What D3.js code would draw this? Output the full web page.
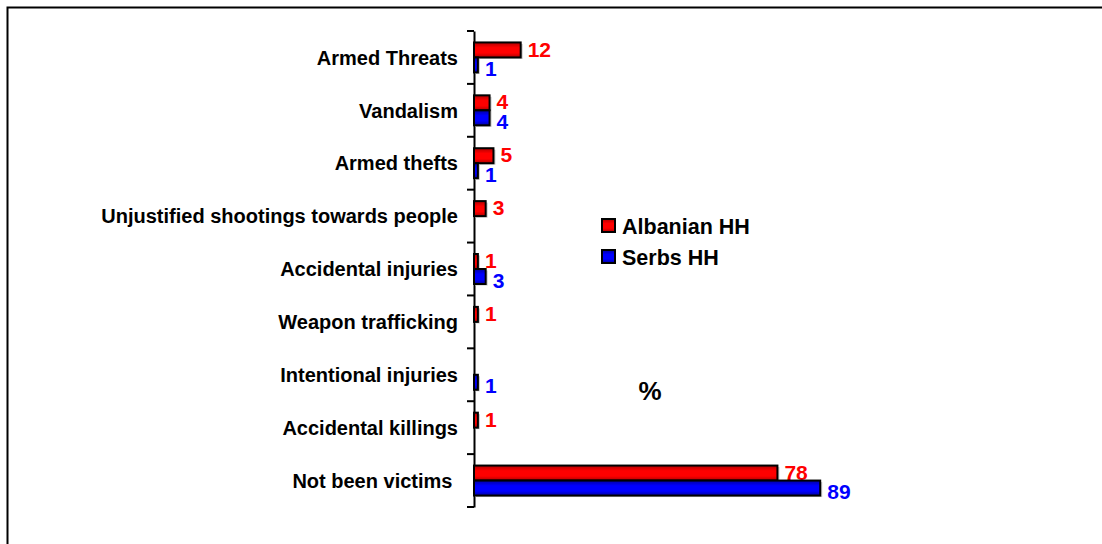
<!DOCTYPE html>
<html><head><meta charset="utf-8">
<script src="https://cdn.jsdelivr.net/npm/d3@7"></script>
<style>body{margin:0;background:#fff}svg{display:block}text{font-family:"Liberation Sans",Arial,sans-serif;font-weight:bold}</style>
</head><body><svg id="c" width="1102" height="544"></svg>
<script>
const categories = ["Armed Threats","Vandalism","Armed thefts","Unjustified shootings towards people","Accidental injuries","Weapon trafficking","Intentional injuries","Accidental killings","Not been victims "];
const albanian = [12,4,5,3,1,1,null,1,78];
const serbs = [1,4,1,null,3,null,1,null,89];
const seriesNames = ["Albanian HH","Serbs HH"];
const seriesColors = ["#ff0000","#0000ff"];

const svg = d3.select("#c");
const defs = svg.append("defs");
[["gr","#b00000","#ff0000"],["gb","#0000a0","#0000ff"]].forEach(([id,dark,bright])=>{
  const g = defs.append("linearGradient").attr("id",id).attr("x1",0).attr("y1",0).attr("x2",0).attr("y2",1);
  g.append("stop").attr("offset","0%").attr("stop-color",dark);
  g.append("stop").attr("offset","35%").attr("stop-color",bright);
  g.append("stop").attr("offset","70%").attr("stop-color",bright);
  g.append("stop").attr("offset","100%").attr("stop-color",dark);
});
const fills = ["url(#gr)","url(#gb)"];

// frame
svg.append("rect").attr("x",7.5).attr("y",7.5).attr("width",1200).attr("height",600)
  .attr("fill","none").attr("stroke","#000").attr("stroke-width",2);

const x = d3.scaleLinear().domain([0,100]).range([474,863]);
const y = d3.scaleBand().domain(categories).range([31,507]).padding(0);
const barH = 15;

// axis
const ax = svg.append("g").attr("transform","translate(474,0)")
  .call(d3.axisLeft(y).tickSize(0).tickFormat(""));
ax.select(".domain").attr("stroke","#000").attr("stroke-width",2);
// ticks at band boundaries
const bounds = categories.map(c=>y(c)).concat([y.range()[1]]);
svg.append("g").selectAll("line").data(bounds).join("line")
  .attr("x1",467).attr("x2",474).attr("y1",d=>d).attr("y2",d=>d)
  .attr("stroke","#000").attr("stroke-width",2);

// category labels
svg.append("g").selectAll("text").data(categories).join("text")
  .attr("x",458).attr("y",d=>y(d)+y.bandwidth()/2)
  .attr("dy","0.36em").attr("text-anchor","end")
  .attr("font-size",20).attr("fill","#000").style("white-space","pre").text(d=>d);

const series = [albanian, serbs];
series.forEach((vals,si)=>{
  const data = vals.map((v,i)=>({c:categories[i],v})).filter(d=>d.v!=null);
  const g = svg.append("g");
  const yy = d=> y(d.c)+y.bandwidth()/2 - barH + si*barH;
  // shadow
  g.selectAll("rect.s").data(data).join("rect").attr("class","s")
    .attr("x",x(0)+1).attr("y",d=>yy(d)+1.5)
    .attr("width",d=>x(d.v)-x(0)+1).attr("height",barH).attr("fill","#c8c8c8");
  g.selectAll("rect.b").data(data).join("rect").attr("class","b")
    .attr("x",x(0)).attr("y",yy)
    .attr("width",d=>x(d.v)-x(0)).attr("height",barH)
    .attr("fill",fills[si]).attr("stroke","#000").attr("stroke-width",2);
  g.selectAll("text").data(data).join("text")
    .attr("x",d=>x(d.v)+7).attr("y",d=>yy(d)+barH/2 + (si===1?3.5:-1))
    .attr("dy","0.36em").attr("font-size",21).attr("fill",seriesColors[si])
    .text(d=>d.v);
});

// legend
const leg = svg.append("g");
seriesNames.forEach((n,i)=>{
  const ly = 226 + i*31;
  leg.append("rect").attr("x",602).attr("y",ly-7).attr("width",13).attr("height",13)
    .attr("fill",fills[i]).attr("stroke","#000").attr("stroke-width",2);
  leg.append("text").attr("x",622).attr("y",ly).attr("dy","0.36em")
    .attr("font-size",21.5).attr("fill","#000").text(n);
});

svg.append("text").attr("x",650).attr("y",400).attr("text-anchor","middle")
  .attr("font-size",26).attr("fill","#000").text("%");
</script></body></html>
